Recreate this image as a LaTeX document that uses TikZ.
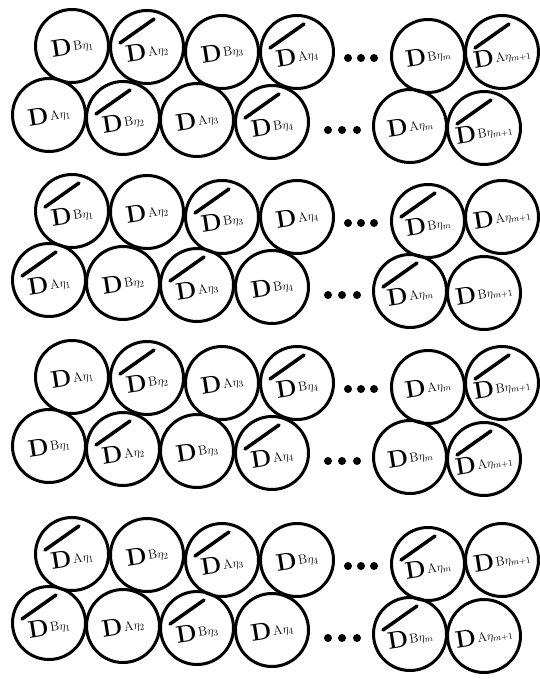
\documentclass[tikz,border=0pt]{standalone}
\begin{document}
\newcommand\dlab[2]{{\fontsize{24}{24}\selectfont\bfseries D}\kern1.5pt\raisebox{3pt}{\fontsize{13}{13}\selectfont #1$\eta_{#2}$}}
\begin{tikzpicture}[x=1pt,y=-1pt,
  disc/.style={circle,draw,line width=3pt,minimum size=73pt,inner sep=0pt},
  lbl/.style={inner sep=0pt,rotate=9},
  barline/.style={line width=3.5pt,line cap=round},
  dotn/.style={circle,fill,inner sep=0pt,minimum size=8pt}]
\useasboundingbox (0,0) rectangle (539,679);
\foreach \g/\dy/\tfirst/\bpar in {1/0/0/0, 2/165/0/1, 3/331/1/0, 4/508/1/1} {
  % top row
  \foreach \i/\x/\y/\s in {1/72/46/1, 2/147/47/2, 3/222/52/3, 4/297/52/4, 5/428/56/m, 6/502/52/m+1} {
    \pgfmathtruncatemacro\lp{mod(\i+\tfirst,2)}
    \pgfmathtruncatemacro\bp{mod(\i+\bpar,2)}
    \ifnum\lp=1 \def\TL{B}\else\def\TL{A}\fi
    \ifnum\bp=0 \def\ly{4}\else\def\ly{0}\fi
    \node[disc] (t\g-\i) at (\x,\y+\dy) {};
    \node[lbl] (lt\g-\i) at ([shift={(0,\ly)}]t\g-\i.center) {\dlab{\TL}{\s}};
    \ifnum\bp=0
      \draw[barline] ([shift={(-27,-4)}]t\g-\i.center) -- ([shift={(7,-28)}]t\g-\i.center);
    \fi
  }
  % bottom row
  \foreach \i/\x/\y/\s in {1/49/115/1, 2/123/118/2, 3/197/120/3, 4/272/122/4, 5/410/126/m, 6/484/128/m+1} {
    \pgfmathtruncatemacro\lp{mod(\i+\tfirst,2)}
    \pgfmathtruncatemacro\bp{mod(\i+\bpar,2)}
    \ifnum\lp=1 \def\BL{A}\else\def\BL{B}\fi
    \ifnum\bp=0 \def\ly{4}\else\def\ly{0}\fi
    \node[disc] (b\g-\i) at (\x,\y+\dy) {};
    \node[lbl] (lb\g-\i) at ([shift={(0,\ly)}]b\g-\i.center) {\dlab{\BL}{\s}};
    \ifnum\bp=0
      \draw[barline] ([shift={(-27,-4)}]b\g-\i.center) -- ([shift={(7,-28)}]b\g-\i.center);
    \fi
  }
  % dots
  \foreach \k/\x in {1/348, 2/361, 3/374} {
    \node[dotn] (td\g-\k) at (\x,58+\dy) {};
  }
  \foreach \k/\x in {1/328, 2/342, 3/357} {
    \node[dotn] (bd\g-\k) at (\x,130+\dy) {};
  }
}
\end{tikzpicture}
\end{document}
